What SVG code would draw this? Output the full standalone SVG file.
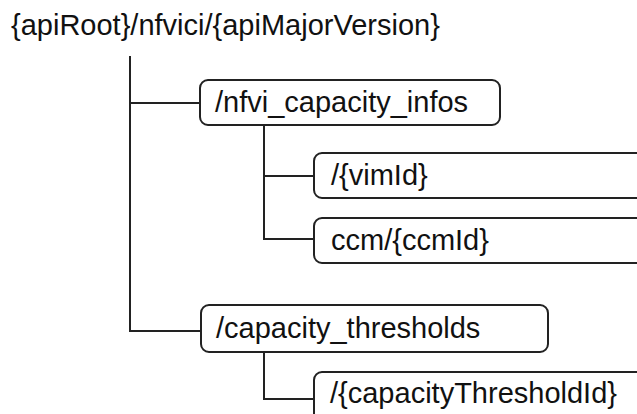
<svg xmlns="http://www.w3.org/2000/svg" width="637" height="414" viewBox="0 0 637 414">
<style>
.t{font-family:"Liberation Sans",Arial,sans-serif;font-size:29px;fill:#111}
.b{fill:#fff;stroke:#222;stroke-width:2}
.c{fill:none;stroke:#222;stroke-width:2}
</style>
<rect width="637" height="414" fill="#fff"/>
<g id="connectors">
<path class="c" d="M130 56V331H201M130 103H200"/>
<path class="c" d="M264 125V239H314M264 176H314"/>
<path class="c" d="M264 352V399H314"/>
</g>
<g id="root"><text class="t" x="11" y="35">{apiRoot}/nfvici/{apiMajorVersion}</text></g>
<g id="n1"><rect class="b" x="200" y="80" width="300" height="45" rx="8"/><text class="t" x="215" y="112">/nfvi_capacity_infos</text></g>
<g id="n2"><rect class="b" x="314" y="153" width="340" height="45" rx="8"/><text class="t" x="331" y="185">/{vimId}</text></g>
<g id="n3"><rect class="b" x="314" y="218" width="340" height="45" rx="8"/><text class="t" x="331" y="250">ccm/{ccmId}</text></g>
<g id="n4"><rect class="b" x="201" y="305" width="347" height="47" rx="8"/><text class="t" x="216" y="338">/capacity_thresholds</text></g>
<g id="n5"><rect class="b" x="314" y="372" width="340" height="60" rx="8"/><text class="t" x="330" y="403">/{capacityThresholdId}</text></g>
</svg>
